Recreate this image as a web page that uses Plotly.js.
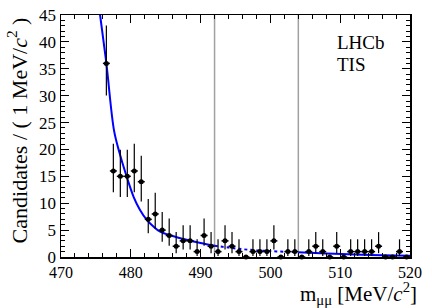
<!DOCTYPE html>
<html>
<head>
<meta charset="utf-8">
<script src="https://cdn.plot.ly/plotly-3.0.1.min.js"></script>
<style>html,body{margin:0;padding:0;background:#fff;}#chart{width:432px;height:308px;}</style>
</head>
<body>
<div id="chart"></div>
<script>
// Data (1 MeV bins)
const binCenters = [476.5,477.5,478.5,479.5,480.5,481.5,482.5,483.5,484.5,485.5,486.5,487.5,488.5,489.5,490.5,491.5,492.5,493.5,494.5,495.5,496.5,497.5,498.5,499.5,500.5,501.5,502.5,503.5,504.5,505.5,506.5,507.5,508.5,509.5,510.5,511.5,512.5,513.5,514.5,515.5,516.5,517.5,518.5,519.5];
const counts     = [36,16,15,15,16,14,7,8,5,4,2,3,3,1,4,2,1,3,2,1,0,1,1,1,3,0,1,1,0,1,2,1,0,2,0,1,1,1,1,2,0,0,1,0];

// Fit curve
const curveX = [475.2,475.6,476.5,477.6,478.4,479.2,480.4,481.3,482.3,483.2,484.2,486,488,490,492,494,496,498,500,502,504,508,512,516,520];
const curveY = [49,45,36,23.5,19.3,15.8,11.2,8.8,6.9,5.7,4.7,3.9,3.2,2.6,2.1,1.75,1.45,1.25,1.1,0.98,0.9,0.65,0.47,0.33,0.25];

const signalLo = 492, signalHi = 504;

// Poisson (Wilson-Hilferty approx of Garwood) error bars for non-zero bins
const errUp = counts.map(n => n > 0 ? (n+1)*Math.pow(1 - 1/(9*(n+1)) + 1/(3*Math.sqrt(n+1)), 3) - n : 0);
const errDn = counts.map(n => n > 0 ? n - n*Math.pow(1 - 1/(9*n) - 1/(3*Math.sqrt(n)), 3) : 0);

function seg(lo, hi) {
  const xs = [], ys = [];
  curveX.forEach((x, i) => { if (x >= lo && x <= hi) { xs.push(x); ys.push(curveY[i]); } });
  return {x: xs, y: ys};
}
const sL = seg(-Infinity, signalLo), sM = seg(signalLo, signalHi), sR = seg(signalHi, Infinity);

const blue = '#0000ff';
const traces = [
  {x: sL.x, y: sL.y, mode: 'lines', line: {color: blue, width: 2, shape: 'spline', smoothing: 1}, hoverinfo: 'skip'},
  {x: sM.x, y: sM.y, mode: 'lines', line: {color: blue, width: 2, shape: 'spline', dash: 'dot'}, hoverinfo: 'skip'},
  {x: sR.x, y: sR.y, mode: 'lines', line: {color: blue, width: 2, shape: 'spline'}, hoverinfo: 'skip'},
  {x: binCenters, y: counts, mode: 'markers', cliponaxis: false,
   marker: {color: '#000', size: 5, symbol: 'circle'},
   error_y: {type: 'data', symmetric: false, array: errUp, arrayminus: errDn, color: '#000', thickness: 1.2, width: 0},
   error_x: {type: 'constant', value: 0.5, color: '#000', thickness: 1.5, width: 0}}
];

const serif = 'Liberation Serif, Times New Roman, serif';
const axisCommon = {
  showline: true, linecolor: '#000', linewidth: 1.5, mirror: 'ticks',
  ticks: 'inside', ticklen: 8, tickwidth: 1.2, tickcolor: '#000',
  showgrid: false, zeroline: false, tickfont: {family: serif, size: 17, color: '#000'}
};

const layout = {
  width: 432, height: 308,
  margin: {l: 61, r: 22, t: 15, b: 51},
  paper_bgcolor: '#fff', plot_bgcolor: '#fff',
  showlegend: false,
  xaxis: Object.assign({}, axisCommon, {range: [470, 520], dtick: 10, tick0: 470, ticklabelstandoff: 0,
    tickfont: {family: serif, size: 16, color: '#000'},
    minor: {dtick: 2, ticklen: 4, ticks: 'inside', tickcolor: '#000', tickwidth: 1}}),
  yaxis: Object.assign({}, axisCommon, {range: [0, 45], dtick: 5, tick0: 0,
    minor: {dtick: 1, ticklen: 4, ticks: 'inside', tickcolor: '#000', tickwidth: 1}}),
  shapes: [signalLo, signalHi].map(v => ({type: 'line', xref: 'x', yref: 'paper', x0: v, x1: v, y0: 0, y1: 1,
    line: {color: '#a0a0a0', width: 1.5}, layer: 'below'})),
  annotations: [
    {text: 'LHCb', xref: 'paper', yref: 'paper', x: 0.785, y: 0.885, xanchor: 'left', yanchor: 'middle', showarrow: false,
     font: {family: serif, size: 19, color: '#000'}},
    {text: 'TIS', xref: 'paper', yref: 'paper', x: 0.785, y: 0.797, xanchor: 'left', yanchor: 'middle', showarrow: false,
     font: {family: serif, size: 19, color: '#000'}},
    {text: 'm<sub>μμ</sub> [MeV/<i>c</i><sup>2</sup>]', xref: 'paper', yref: 'paper', x: 1.025, y: -0.15,
     xanchor: 'right', yanchor: 'middle', showarrow: false, font: {family: serif, size: 21, color: '#000'}},
    {text: 'Candidates / ( 1 MeV/<i>c</i><sup>2</sup> )', xref: 'paper', yref: 'paper', x: -0.125, y: 1,
     xanchor: 'center', yanchor: 'top', textangle: -90, showarrow: false, font: {family: serif, size: 22, color: '#000'}}
  ]
};

Plotly.newPlot('chart', traces, layout, {displayModeBar: false, staticPlot: true});
</script>
</body>
</html>
